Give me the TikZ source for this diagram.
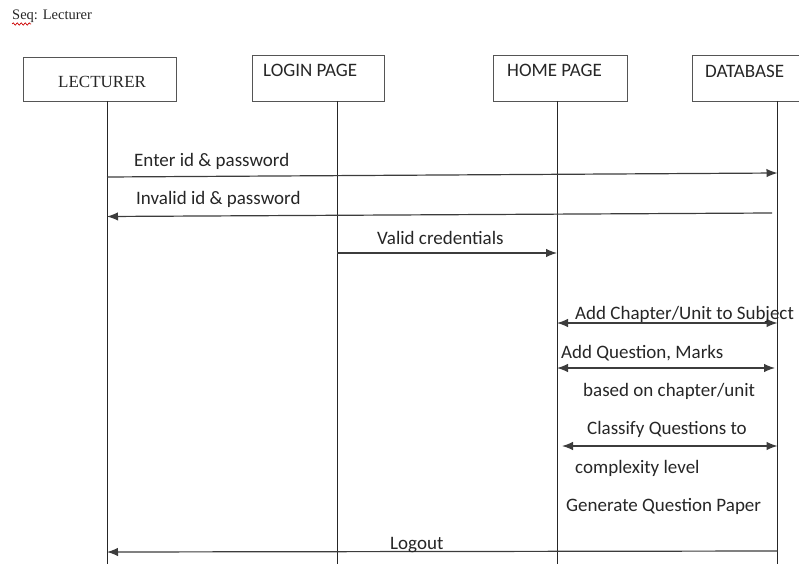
\documentclass[tikz,border=0pt]{standalone}
\usepackage{fontspec}
\setmainfont{Liberation Serif}
\newfontfamily\calib{Carlito}
\usetikzlibrary{arrows.meta,decorations.pathmorphing}

\definecolor{ink}{HTML}{262626}
\definecolor{boxline}{HTML}{555555}

\tikzset{
  actorbox/.style={draw=boxline, line width=1.1pt, fill=none, inner sep=0pt, anchor=north west},
  lifeline/.style={draw=ink, line width=0.9pt},
  msg/.style={draw=ink!90, line width=1.2pt, -{Latex[length=11pt,width=8.5pt]}},
  dmsg/.style={draw=ink!90, line width=1.2pt, {Latex[length=11pt,width=8.5pt]}-{Latex[length=11pt,width=8.5pt]}},
  msgtext/.style={text=ink, inner sep=0pt, anchor=base west, font=\calib\fontsize{19}{22}\selectfont},
  actortext/.style={text=ink, inner sep=0pt, anchor=base west, font=\calib\fontsize{19}{22}\selectfont},
}

\def\xLect{107}
\def\xLogin{337}
\def\xHome{557}
\def\xDb{777.5}

\begin{document}
\begin{tikzpicture}[x=1pt,y=-1pt]
\useasboundingbox (0,0) rectangle (799,564);
\clip (0,0) rectangle (799,564);

% heading with its spelling underline
\node[text=ink, inner sep=0pt, anchor=base west, font=\fontsize{14.5}{17}\selectfont] (title) at (12,20) {Seq: Lecturer};
\draw[red!80!black, line width=0.7pt, decorate, decoration={snake, amplitude=1.2pt, segment length=4pt}] (12,24) -- (31,24);

% participant boxes
\node[actorbox, minimum width=153pt, minimum height=44pt] (lect)  at (23,57) {};
\node[actorbox, minimum width=132pt, minimum height=46pt] (login) at (252,55) {};
\node[actorbox, minimum width=134pt, minimum height=46pt] (home)  at (493,55) {};
\node[actorbox, minimum width=140pt, minimum height=46pt] (db)    at (692,55) {};

\node[text=ink, inner sep=0pt, anchor=base west, font=\fontsize{17}{20}\selectfont] (lectT) at (58,88) {LECTURER};
\node[actortext] (loginT) at (263,77) {LOGIN PAGE};
\node[actortext] (homeT)  at (507,77) {HOME PAGE};
\node[actortext] (dbT)    at (705,78) {DATABASE};

% lifelines
\coordinate (lectTop)  at (\xLect,101);  \coordinate (lectBot)  at (\xLect,564);
\coordinate (loginTop) at (\xLogin,101); \coordinate (loginBot) at (\xLogin,564);
\coordinate (homeTop)  at (\xHome,101);  \coordinate (homeBot)  at (\xHome,564);
\coordinate (dbTop)    at (\xDb,101);    \coordinate (dbBot)    at (\xDb,564);
\draw[lifeline] (lectTop) -- (lectBot);
\draw[lifeline] (loginTop) -- (loginBot);
\draw[lifeline] (homeTop) -- (homeBot);
\draw[lifeline] (dbTop) -- (dbBot);

% message end points
\coordinate (m1s) at (\xLect,177);  \coordinate (m1e) at (\xDb,173);
\coordinate (m2s) at (772,213);     \coordinate (m2e) at (\xLect,216.5);
\coordinate (m3s) at (\xLogin,253); \coordinate (m3e) at (\xHome,253);
\coordinate (m4s) at (\xHome,323);  \coordinate (m4e) at (\xDb,323);
\coordinate (m5s) at (\xHome,368);  \coordinate (m5e) at (775,368);
\coordinate (m6s) at (562,446);     \coordinate (m6e) at (\xDb,446);
\coordinate (m7s) at (\xDb,551);    \coordinate (m7e) at (\xLect,552);

% messages
\draw[msg]  (m1s) -- (m1e);
\draw[msg]  (m2s) -- (m2e);
\draw[msg]  (m3s) -- (m3e);
\draw[dmsg] (m4s) -- (m4e);
\draw[dmsg] (m5s) -- (m5e);
\draw[dmsg] (m6s) -- (m6e);
\draw[msg]  (m7s) -- (m7e);

% message labels
\node[msgtext] (t1)  at (134,167) {Enter id \& password};
\node[msgtext] (t2)  at (136,204) {Invalid id \& password};
\node[msgtext] (t3)  at (377,244) {Valid credentials};
\node[msgtext] (t4)  at (575,319) {Add Chapter/Unit to Subject};
\node[msgtext] (t5)  at (561,358) {Add Question, Marks};
\node[msgtext] (t6)  at (583,396) {based on chapter/unit};
\node[msgtext] (t7)  at (587,434) {Classify Questions to};
\node[msgtext] (t8)  at (575,473) {complexity level};
\node[msgtext] (t9)  at (566,511) {Generate Question Paper};
\node[msgtext] (t10) at (390,549) {Logout};
\end{tikzpicture}
\end{document}
